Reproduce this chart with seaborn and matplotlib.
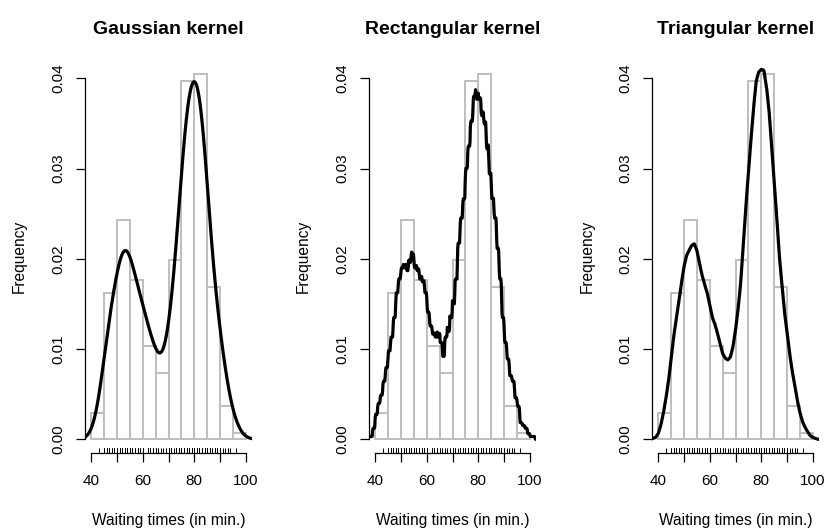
import numpy as np
import pandas as pd
import matplotlib
matplotlib.use("Agg")
import matplotlib.pyplot as plt
import seaborn as sns

# Old Faithful waiting times (min.), as shown by the rug
waiting = [
    79, 54, 74, 62, 85, 55, 88, 85, 51, 85, 54, 84, 78, 47, 83, 52, 62, 84, 52, 79, 51, 47, 78, 69, 74,
    83, 55, 76, 78, 79, 73, 77, 66, 80, 74, 52, 48, 80, 59, 90, 80, 58, 84, 58, 73, 83, 64, 53, 82, 59,
    75, 90, 54, 80, 54, 83, 71, 64, 77, 81, 59, 84, 48, 82, 60, 92, 78, 78, 65, 73, 82, 56, 79, 71, 62,
    76, 60, 78, 76, 83, 75, 82, 70, 65, 73, 88, 76, 80, 48, 86, 60, 90, 50, 78, 63, 72, 84, 75, 51, 82,
    62, 88, 49, 83, 81, 47, 84, 52, 86, 81, 75, 59, 89, 79, 59, 81, 50, 85, 59, 87, 53, 69, 77, 56, 88,
    81, 45, 82, 55, 90, 45, 83, 56, 89, 46, 82, 51, 86, 53, 79, 81, 60, 82, 77, 76, 59, 80, 49, 96, 53,
    77, 77, 65, 81, 71, 70, 81, 93, 53, 89, 45, 86, 58, 78, 66, 76, 63, 88, 52, 93, 49, 57, 77, 68, 81,
    81, 73, 50, 85, 74, 55, 77, 83, 83, 51, 78, 84, 46, 83, 55, 81, 57, 76, 84, 77, 81, 87, 77, 51, 78,
    60, 82, 91, 53, 78, 46, 77, 84, 49, 83, 71, 80, 49, 75, 64, 76, 53, 94, 55, 76, 50, 82, 54, 75, 78,
    79, 78, 78, 70, 79, 70, 54, 86, 50, 90, 54, 54, 77, 79, 64, 75, 47, 86, 63, 85, 82, 57, 82, 67, 74,
    54, 83, 73, 73, 88, 80, 71, 83, 56, 79, 78, 84, 58, 83, 43, 60, 75, 81, 46, 90, 46, 74,
]
bin_edges = [40, 45, 50, 55, 60, 65, 70, 75, 80, 85, 90, 95, 100]
kernels = ["gaussian", "rectangular", "triangular"]
titles = ["Gaussian kernel", "Rectangular kernel", "Triangular kernel"]
kernel_width = 12  # S-style "width" (support length; 4 sd for the gaussian)
width_factor = {"gaussian": 4.0, "rectangular": 2 * np.sqrt(3), "triangular": 2 * np.sqrt(6)}
x_ticks = [40, 50, 60, 70, 80, 90, 100]
x_ticklabels = ["40", "", "60", "", "80", "", "100"]
y_ticks = [0.00, 0.01, 0.02, 0.03, 0.04]
y_ticklabels = ["0.00", "0.01", "0.02", "0.03", "0.04"]

w = np.array(waiting, dtype=float)


def density(kind, n=512, cut=3):
    # same steps as R's density.default: linear binning + FFT convolution
    bw = kernel_width / width_factor[kind]
    lo_x, hi_x = w.min() - cut * bw, w.max() + cut * bw
    lo, up = lo_x - 4 * bw, hi_x + 4 * bw
    y = np.zeros(2 * n)
    delta = (up - lo) / (n - 1)
    pos = (w - lo) / delta
    ix = np.floor(pos).astype(int)
    fx = pos - ix
    wt = 1.0 / len(w)
    for i, f in zip(ix, fx):
        y[i] += wt * (1 - f)
        y[i + 1] += wt * f
    kords = np.linspace(0, 2 * (up - lo), 2 * n)
    kords[n + 1:] = -kords[n - 1:0:-1]
    if kind == "gaussian":
        k = np.exp(-0.5 * (kords / bw) ** 2) / (bw * np.sqrt(2 * np.pi))
    elif kind == "rectangular":
        a = bw * np.sqrt(3)
        k = np.where(np.abs(kords) < a, 0.5 / a, 0)
    else:
        a = bw * np.sqrt(6)
        ax_ = np.abs(kords)
        k = np.where(ax_ < a, (1 - ax_ / a) / a, 0)
    conv = np.fft.ifft(np.fft.fft(y) * np.conj(np.fft.fft(k))).real[:n]
    conv = np.maximum(conv, 0)
    xords = np.linspace(lo, up, n)
    gx = np.linspace(lo_x, hi_x, n)
    return gx, np.interp(gx, xords, conv)


# right-closed histogram counts like R's hist()
bins_cut = pd.cut(pd.Series(w), bin_edges, right=True, include_lowest=True)
counts = bins_cut.value_counts(sort=False).sort_index().values
centers = (np.array(bin_edges[:-1]) + np.array(bin_edges[1:])) / 2

sns.set_style("ticks")
plt.rcParams["font.family"] = ["Liberation Sans", "DejaVu Sans"]
plt.rcParams["text.color"] = "black"
plt.rcParams["axes.labelcolor"] = "black"

fig = plt.figure(figsize=(8.27, 5.3), dpi=100)
W, H = 827, 530
lefts = [85, 369, 652]
ax_w = 167
top_px, bottom_px = 60, 453
px_per_unit = 9025.0
y0_px = 439.3

for left, kind, title in zip(lefts, kernels, titles):
    ax = fig.add_axes([left / W, 1 - bottom_px / H, ax_w / W, (bottom_px - top_px) / H])

    sns.histplot(x=centers, weights=counts, bins=bin_edges, stat="density",
                 color="white", edgecolor="#bebebe", linewidth=1.4, alpha=1, ax=ax)
    gx, gy = density(kind)
    sns.lineplot(x=gx, y=gy, color="black", linewidth=2.3, ax=ax)
    sns.rugplot(x=w, height=0.013, color="black", linewidth=0.7, ax=ax)

    ax.set_xlim(37.6, 102.4)
    ax.set_ylim(-(bottom_px - y0_px) / px_per_unit, (y0_px - top_px) / px_per_unit)

    ax.set_xticks(x_ticks)
    ax.set_xticklabels(x_ticklabels)
    ax.set_yticks(y_ticks)
    ax.set_yticklabels(y_ticklabels, rotation=90, va="center")
    ax.tick_params(axis="both", length=6.5, width=0.9, labelsize=11,
                   colors="black", labelcolor="black")
    ax.tick_params(axis="x", pad=8.5)
    ax.tick_params(axis="y", pad=7.5)

    sns.despine(ax=ax)
    ax.spines["left"].set_bounds(0, 0.04)
    ax.spines["bottom"].set_bounds(40, 100)
    for s in ("left", "bottom"):
        ax.spines[s].set_linewidth(0.9)
        ax.spines[s].set_color("black")

    ax.set_xlabel("Waiting times (in min.)", fontsize=11.2, labelpad=18)
    ax.set_ylabel("Frequency", fontsize=11.2, labelpad=17.5)
    ax.set_title(title, fontsize=14, fontweight="bold", pad=18.5, color="black")

fig.savefig("out.png", dpi=100)
